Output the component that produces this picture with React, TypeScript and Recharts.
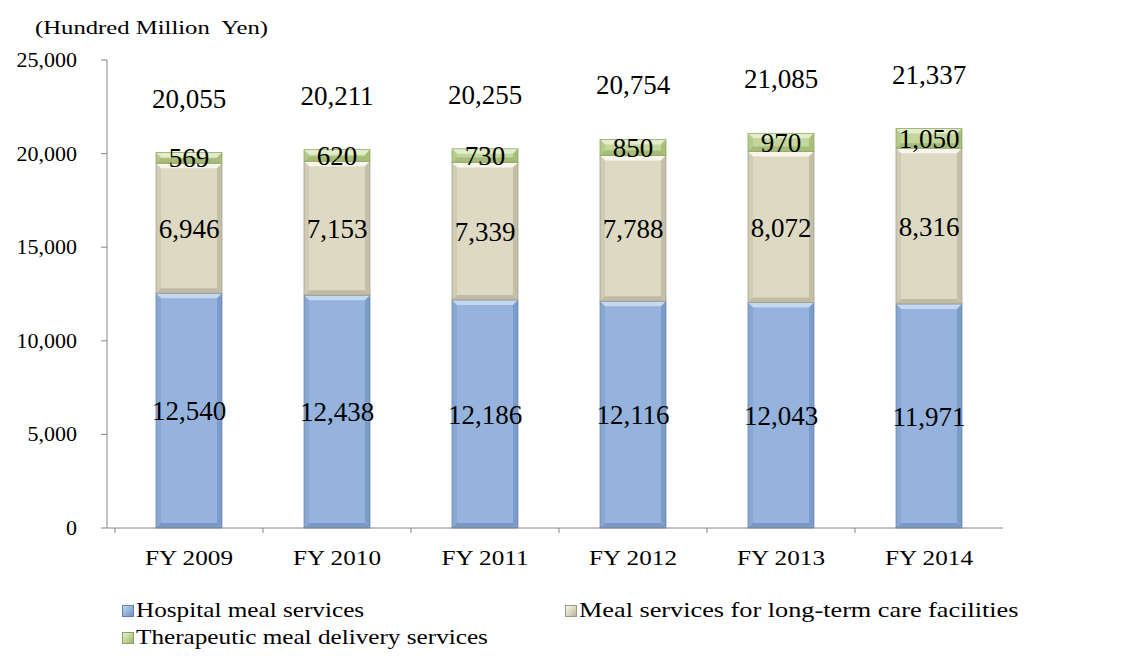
import { BarChart, Bar, XAxis, YAxis, LabelList, Legend } from 'recharts';

// values in hundred million yen
const years = ['FY 2009', 'FY 2010', 'FY 2011', 'FY 2012', 'FY 2013', 'FY 2014'];
const hospital = [12540, 12438, 12186, 12116, 12043, 11971];
const longTermCare = [6946, 7153, 7339, 7788, 8072, 8316];
const therapeutic = [569, 620, 730, 850, 970, 1050];
const yTicks = [0, 5000, 10000, 15000, 20000, 25000];

const seriesNames = {
  hospital: 'Hospital meal services',
  care: 'Meal services for long-term care facilities',
  therapeutic: 'Therapeutic meal delivery services',
};

const data = years.map((year, i) => ({
  year,
  hospital: hospital[i],
  care: longTermCare[i],
  therapeutic: therapeutic[i],
  total: hospital[i] + longTermCare[i] + therapeutic[i],
}));

const FONT = '"Liberation Serif", "Times New Roman", serif';
const AXIS_COLOR = '#868686';
const CHART_W = 1123;
const CHART_H = 656;
const MARGIN = { top: 60, right: 120, left: 0, bottom: 88 };
const X_AXIS_H = 40;
const PLOT_BOTTOM = CHART_H - MARGIN.bottom - X_AXIS_H;
// the source picture's text is a bit wider than plain Times
const STRETCH = 1.15;

const fmt = (v: number) => v.toLocaleString('en-US');

const colors = {
  hospital: { fill: '#95b3dc', light: '#c4d8f0', dark: '#7091c0', edge: '#5f7fae' },
  care: { fill: '#ddd9c3', light: '#f8f6ec', dark: '#b8b39c', edge: '#a09a82' },
  therapeutic: { fill: '#c3d69b', light: '#e3edcb', dark: '#9db46e', edge: '#8aa35c' },
};

// Excel-like bevelled bar
const bevel = (c: { fill: string; light: string; dark: string; edge: string }) => (props: any) => {
  const { x, y, width, height } = props;
  if (!height || height <= 0) return <g />;
  const b = Math.min(5, height / 2, width / 2);
  return (
    <g>
      <rect x={x} y={y} width={width} height={height} fill={c.fill} />
      <polygon points={`${x},${y} ${x + width},${y} ${x + width - b},${y + b} ${x + b},${y + b}`} fill={c.light} />
      <polygon points={`${x},${y} ${x + b},${y + b} ${x + b},${y + height - b} ${x},${y + height}`} fill={c.dark} opacity={0.35} />
      <polygon points={`${x + width},${y} ${x + width - b},${y + b} ${x + width - b},${y + height - b} ${x + width},${y + height}`} fill={c.dark} opacity={0.7} />
      <polygon points={`${x},${y + height} ${x + b},${y + height - b} ${x + width - b},${y + height - b} ${x + width},${y + height}`} fill={c.dark} opacity={0.8} />
      <rect x={x} y={y} width={width} height={height} fill="none" stroke={c.edge} strokeWidth={0.7} />
    </g>
  );
};

const XTick = (props: any) => {
  const { x, payload } = props;
  const half = payload && payload.offset ? payload.offset : 74;
  return (
    <g>
      <line x1={x - half} x2={x - half} y1={PLOT_BOTTOM} y2={PLOT_BOTTOM + 5} stroke={AXIS_COLOR} />
      <text
        transform={`translate(${x},${PLOT_BOTTOM + 37}) scale(${STRETCH + 0.05},1)`}
        textAnchor="middle"
        fontFamily={FONT}
        fontSize={21}
        fill="#000"
      >
        {payload.value}
      </text>
    </g>
  );
};

const YTick = (props: any) => {
  const { x, y, payload } = props;
  return (
    <text transform={`translate(${x},${y}) scale(${STRETCH - 0.05},1)`} dy="0.35em" textAnchor="end" fontFamily={FONT} fontSize={20} fill="#000">
      {fmt(payload.value)}
    </text>
  );
};

const TotalLabel = (props: any) => {
  const { x, y, width, index } = props;
  return (
    <text x={x + width / 2} y={y - 45} textAnchor="middle" fontFamily={FONT} fontSize={27} fill="#000">
      {fmt(data[index].total)}
    </text>
  );
};

const UnitLabel = () => (
  <text transform={`translate(35,34) scale(1.3,1)`} fontFamily={FONT} fontSize={19} fill="#000" style={{ whiteSpace: 'pre' }}>
    {'(Hundred Million  Yen)'}
  </text>
);

const LegendBox = () => {
  const items = [
    { key: 'hospital', c: colors.hospital, w: 443 },
    { key: 'care', c: colors.care, w: 500 },
    { key: 'therapeutic', c: colors.therapeutic, w: 443 },
  ] as const;
  return (
    <div style={{ display: 'flex', flexWrap: 'wrap', width: 1000, paddingLeft: 122, fontFamily: FONT, fontSize: 21, color: '#000' }}>
      {items.map((it) => (
        <div key={it.key} style={{ width: it.w, height: 27, display: 'flex', alignItems: 'center' }}>
          <span
            style={{
              display: 'inline-block',
              flex: 'none',
              width: 10,
              height: 10,
              marginRight: 2,
              background: `linear-gradient(135deg, ${it.c.light}, ${it.c.fill} 50%, ${it.c.dark})`,
              border: `1px solid ${it.c.edge}`,
            }}
          />
          <span
            style={{
              display: 'inline-block',
              transform: `scaleX(${it.key === 'care' ? STRETCH + 0.1 : STRETCH + 0.05})`,
              transformOrigin: 'left center',
              whiteSpace: 'nowrap',
            }}
          >
            {seriesNames[it.key]}
          </span>
        </div>
      ))}
    </div>
  );
};

const labelStyle = { fontFamily: FONT, fontSize: 27, fill: '#000' };

export default function App() {
  return (
    <div style={{ position: 'absolute', left: 0, top: 0, width: 1123, height: 656, overflow: 'hidden', background: '#fff' }}>
      <BarChart width={CHART_W} height={CHART_H} data={data} margin={MARGIN} barSize={66}>
        <XAxis
          dataKey="year"
          height={X_AXIS_H}
          padding={{ left: 8, right: 0 }}
          axisLine={{ stroke: AXIS_COLOR }}
          tickLine={false}
          tick={<XTick />}
          interval={0}
        />
        <YAxis
          width={107}
          domain={[0, 25000]}
          ticks={yTicks}
          axisLine={{ stroke: AXIS_COLOR }}
          tickLine={{ stroke: AXIS_COLOR }}
          tickSize={6}
          tickMargin={24}
          tick={<YTick />}
          label={{ content: <UnitLabel /> }}
        />
        <Legend
          layout="vertical"
          verticalAlign="middle"
          align="center"
          content={<LegendBox />}
          wrapperStyle={{ top: 597, left: 0, width: 1123, height: 60 }}
        />
        <Bar dataKey="hospital" stackId="a" name={seriesNames.hospital} shape={bevel(colors.hospital)} isAnimationActive={false}>
          <LabelList dataKey="hospital" position="center" formatter={fmt} style={labelStyle} />
        </Bar>
        <Bar dataKey="care" stackId="a" name={seriesNames.care} shape={bevel(colors.care)} isAnimationActive={false}>
          <LabelList dataKey="care" position="center" formatter={fmt} style={labelStyle} />
        </Bar>
        <Bar dataKey="therapeutic" stackId="a" name={seriesNames.therapeutic} shape={bevel(colors.therapeutic)} isAnimationActive={false}>
          <LabelList dataKey="therapeutic" position="center" formatter={fmt} style={labelStyle} />
          <LabelList dataKey="total" content={<TotalLabel />} />
        </Bar>
      </BarChart>
    </div>
  );
}
